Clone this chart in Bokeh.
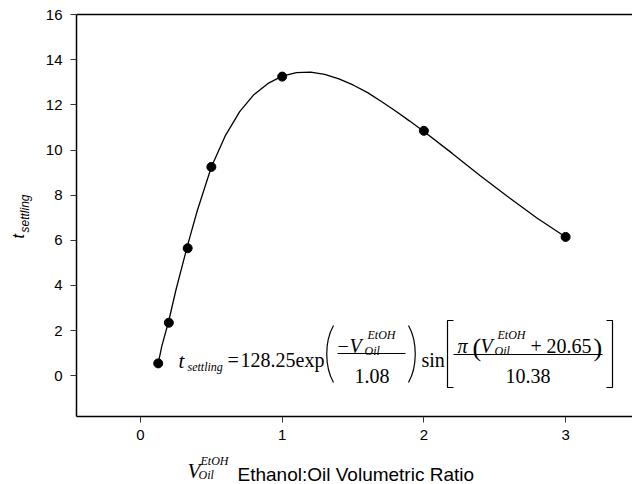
import numpy as np
from bokeh.plotting import figure
from bokeh.models import Label, Range1d, FixedTicker, LinearAxis
from bokeh.embed import file_html
from bokeh.resources import INLINE

# ---- data ----
ratio = [0.125, 0.2, 0.333, 0.5, 1.0, 2.0, 3.0]
t_settling = [0.55, 2.35, 5.65, 9.25, 13.25, 10.85, 6.15]
# fitted curve
curve_v = [0.125, 0.15, 0.2, 0.25, 0.333, 0.4, 0.5, 0.6, 0.7, 0.8, 0.9, 1.0, 1.1, 1.2,
           1.3, 1.4, 1.5, 1.6, 1.7, 1.8, 1.9, 2.0, 2.2, 2.4, 2.6, 2.8, 3.0]
curve_t = [0.55, 1.3, 2.45, 3.8, 5.8, 7.3, 9.25, 10.65, 11.7, 12.45, 12.95, 13.27, 13.43, 13.45,
           13.35, 13.15, 12.88, 12.55, 12.15, 11.73, 11.28, 10.82, 9.85, 8.85, 7.9, 6.98, 6.15]
x_ticks = [0, 1, 2, 3]
y_ticks = [0, 2, 4, 6, 8, 10, 12, 14, 16]

W, H = 632, 484
# plot box (axis extents)
BX0, BY0, BY1 = -0.4517, -1.8, 16.0
# full-canvas data window
XA, XB = -0.988, 3.4721
YT, YB = 16.621, -4.814


def dx(px):
    return XA + px / W * (XB - XA)


def dy(py):
    return YT - py / H * (YT - YB)


p = figure(width=W, height=H, x_range=Range1d(XA, XB), y_range=Range1d(YB, YT),
           output_backend="svg", toolbar_location=None, x_axis_location=None,
           y_axis_location=None, min_border=0, min_border_left=0, min_border_right=0,
           min_border_top=0, min_border_bottom=0)
p.grid.visible = False
p.outline_line_color = None
p.background_fill_color = "white"
p.border_fill_color = "white"

xax = LinearAxis(ticker=FixedTicker(ticks=x_ticks), fixed_location=BY0, bounds=(BX0, XB))
yax = LinearAxis(ticker=FixedTicker(ticks=y_ticks), fixed_location=BX0, bounds=(BY0, BY1))
top = LinearAxis(ticker=FixedTicker(ticks=[]), fixed_location=BY1, bounds=(BX0, XB),
                 major_label_text_font_size="0px")
for ax in (xax, yax, top):
    ax.minor_tick_line_color = None
    ax.major_tick_in = 0
    ax.major_tick_out = 6
    ax.major_tick_line_width = 1
    ax.major_tick_line_color = "#333333"
    ax.axis_line_width = 1.5
    ax.axis_line_color = "black"
    ax.major_label_text_font = "Liberation Sans"
    ax.major_label_text_color = "black"
    ax.major_label_standoff = 8
xax.major_label_text_font_size = "15px"
yax.major_label_text_font_size = "15px"
p.add_layout(xax, "below")
p.add_layout(yax, "left")
p.add_layout(top, "above")

p.line(curve_v, curve_t, line_color="black", line_width=1.3)
p.scatter(ratio, t_settling, size=9, color="black")

SERIF = "Liberation Serif"
SANS = "Liberation Sans"


def lab(text, px, py, size, font=SERIF, italic=False, angle=0.0):
    p.add_layout(Label(x=dx(px), y=dy(py), text=text, text_font=font,
                       text_font_size=f"{size}px",
                       text_font_style="italic" if italic else "normal",
                       text_color="black", text_align="left",
                       text_baseline="alphabetic", angle=angle))


# y axis title (rotated)
lab("t", 18, 238, 16, SANS, True, np.pi / 2)
lab("settling", 24, 232, 12, SANS, True, np.pi / 2)

# x axis title
lab("V", 187, 470, 21, SERIF, True)
lab("EtOH", 200, 460, 12, SERIF, True)
lab("Oil", 198, 474, 12, SERIF, True)
lab("Ethanol:Oil Volumetric Ratio", 237, 474, 19, SANS)

# equation
EQ = 20
lab("t", 178, 360, 21, SERIF, True)
lab("settling", 187, 366, 12, SERIF, True)
lab("=", 227, 359, EQ)
lab("128.25", 240, 359, EQ)
lab("exp", 295, 359, EQ)
lab("\u2212", 337, 345, EQ)
lab("V", 349, 345, EQ, SERIF, True)
lab("EtOH", 367, 334, 12, SERIF, True)
lab("Oil", 364, 350, 12, SERIF, True)
lab("1.08", 354, 375, EQ)
lab("sin", 421, 359, EQ)
lab("\u03c0", 457, 345, EQ, SERIF, True)
lab("(", 472, 347, 26)
lab("V", 480, 345, EQ, SERIF, True)
lab("EtOH", 497, 334, 12, SERIF, True)
lab("Oil", 494, 350, 12, SERIF, True)
lab("+", 530, 345, EQ)
lab("20.65", 546, 345, EQ)
lab(")", 593, 347, 26)
lab("10.38", 505, 375, EQ)

# fraction bars
p.segment(x0=[dx(337), dx(453)], y0=[dy(353), dy(354)], x1=[dx(405), dx(602)], y1=[dy(353), dy(354)],
          line_color="black", line_width=1)
# stretched delimiters
p.bezier(x0=[dx(333), dx(408)], y0=[dy(325), dy(325)], x1=[dx(333), dx(408)], y1=[dy(382), dy(382)],
         cx0=[dx(324), dx(417)], cy0=[dy(341), dy(341)], cx1=[dx(324), dx(417)], cy1=[dy(366), dy(366)],
         line_color="black", line_width=1.2)
p.multi_line(xs=[[dx(453), dx(447), dx(447), dx(453)], [dx(606), dx(612), dx(612), dx(606)]],
             ys=[[dy(320), dy(320), dy(387), dy(387)], [dy(320), dy(320), dy(387), dy(387)]],
             line_color="black", line_width=1.2)

open("out.html", "w").write(file_html(p, INLINE))
